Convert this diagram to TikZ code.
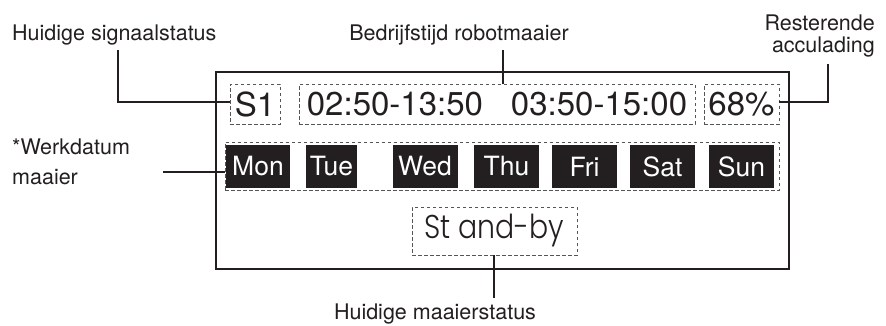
\documentclass[tikz,border=0pt]{standalone}
\usepackage{fontspec}
\setmainfont{TeX Gyre Heros}
\newfontfamily\thinfont{Poppins Light}[FakeStretch=0.86]
\usetikzlibrary{positioning}
\definecolor{ink}{HTML}{231F20}
\definecolor{dashgray}{HTML}{555555}

\begin{document}
\begin{tikzpicture}[x=1pt, y=-1pt,
  screen/.style={draw=ink, line width=2pt, inner sep=0pt},
  field/.style={draw=dashgray, line width=0.7pt, dash pattern=on 3.5pt off 2.5pt,
                inner sep=0pt, font=\fontsize{33}{33}\selectfont, text=ink},
  daybox/.style={fill=ink, text=white, inner sep=0pt, minimum height=43pt,
                 font=\fontsize{26.5}{26.5}\selectfont},
  callout/.style={font=\fontsize{21.5}{22}\selectfont, text=ink, inner sep=0pt},
  lead/.style={draw=ink, line width=2pt}
]
\useasboundingbox (0,0) rectangle (886,325);

% display
\node[screen, minimum width=573pt, minimum height=197pt] (screen) at (502.5,170.5) {};
\node[field, minimum width=50pt, minimum height=40pt] (sig) at (255,104) {S1};
\node[field, minimum width=396pt, minimum height=40pt] (time) at (497,104)
  {02:50-13:50\hspace{28pt}03:50-15:00};
\node[field, minimum width=75pt, minimum height=40pt] (batt) at (741.5,104) {68\%};
\node[field, minimum width=554pt, minimum height=48pt] (days) at (502,166) {};
\node[daybox, minimum width=64pt] (mon) at (258,166.5) {Mon};
\node[daybox, minimum width=51pt] (tue) at (331.5,166.5) {Tue};
\node[daybox, minimum width=65pt] (wed) at (425,166.5) {Wed};
\node[daybox, minimum width=65pt] (thu) at (506.5,166.5) {Thu};
\node[daybox, minimum width=65pt] (fri) at (584.5,166.5) {Fri};
\node[daybox, minimum width=65pt] (sat) at (662.5,166.5) {Sat};
\node[daybox, minimum width=65pt] (sun) at (741.5,166.5) {Sun};
\node[field, minimum width=165pt, minimum height=48pt, font=\thinfont\fontsize{33}{33}\selectfont]
  (mode) at (494.5,231) {St and-by};

% callouts
\node[callout, anchor=base west] (siglbl) at (12,40) {Huidige signaalstatus};
\node[callout, anchor=base] (timelbl) at (459,40) {Bedrijfstijd robotmaaier};
\node[callout, anchor=base east, align=right] (battlbl) at (875,52) {Resterende\\acculading};
\node[callout, anchor=base west, align=left] (daylbl) at (12,184) {*Werkdatum\\[8pt]maaier};
\node[callout, anchor=base] (modelbl) at (435,319) {Huidige maaierstatus};

\coordinate (sigend) at (118,50);
\coordinate (timeend) at (503,50);
\coordinate (battend) at (828,64);
\coordinate (dayend) at (163,172);
\coordinate (modeend) at (494,298);

\draw[lead] ([yshift=2pt]sig.west) -| (sigend);
\draw[lead] (time.north -| timeend) -- (timeend);
\draw[lead] ([yshift=2pt]batt.east) -| (battend);
\draw[lead] (dayend) -- (dayend -| days.west);
\draw[lead] (mode.south -| modeend) -- (modeend);
\end{tikzpicture}
\end{document}
